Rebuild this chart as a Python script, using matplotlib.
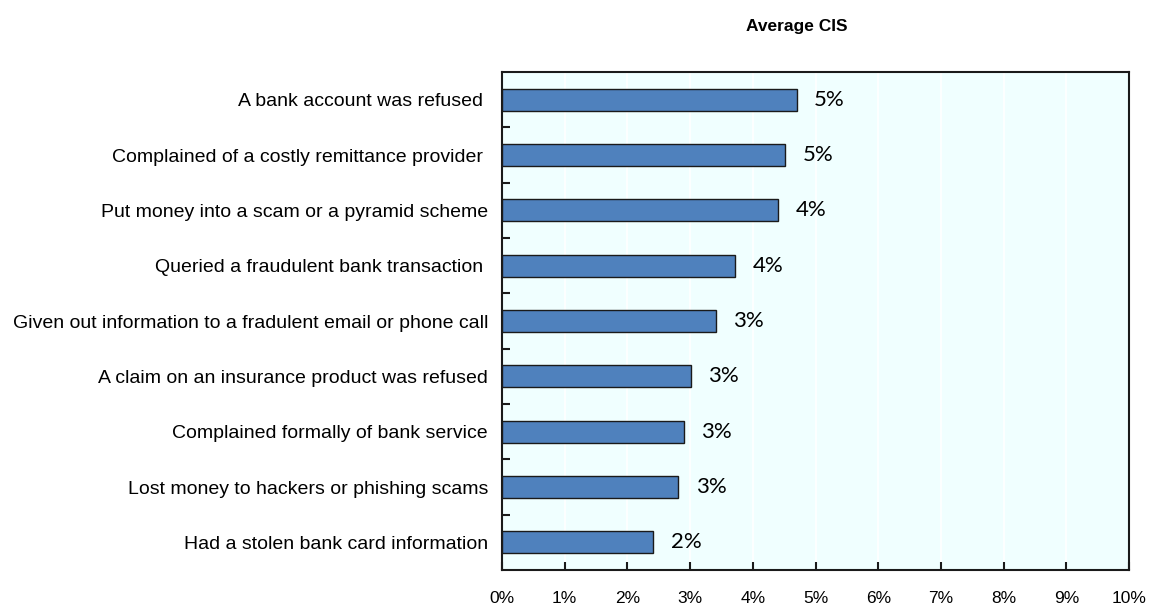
import matplotlib.pyplot as plt
from matplotlib.ticker import FixedLocator, PercentFormatter

# Share of respondents reporting each problem (%), top to bottom
categories = [
    "A bank account was refused ",
    "Complained of a costly remittance provider ",
    "Put money into a scam or a pyramid scheme",
    "Queried a fraudulent bank transaction ",
    "Given out information to a fradulent email or phone call",
    "A claim on an insurance product was refused",
    "Complained formally of bank service",
    "Lost money to hackers or phishing scams",
    "Had a stolen bank card information",
]
values = [4.70, 4.51, 4.40, 3.72, 3.41, 3.01, 2.90, 2.81, 2.41]


def main():
    plt.rcParams['font.family'] = ['Liberation Sans', 'DejaVu Sans']

    fig = plt.figure(figsize=(11.49, 6.05), dpi=100)
    ax = fig.add_axes([502 / 1149, 1 - 570 / 605, 627 / 1149, 498 / 605])
    ax.set_facecolor('#F0FFFF')

    pos = list(range(len(categories)))
    ax.barh(pos, values, height=0.4, color='#4F81BD', edgecolor='#1a1a1a',
            linewidth=1.0, zorder=3)

    for y, v in zip(pos, values):
        ax.text(v + 0.28, y, f"{v:.0f}%", va='center', ha='left',
                fontsize=16, family=['Lato', 'DejaVu Sans'], zorder=4)

    ax.set_xlim(0, 10)
    ax.set_ylim(len(categories) - 0.5, -0.5)
    ax.set_xticks(range(0, 11))
    ax.xaxis.set_major_formatter(PercentFormatter(decimals=0))
    ax.grid(axis='x', color='white', linewidth=1.2, zorder=0)

    ax.set_yticks(pos)
    ax.set_yticklabels(categories, fontsize=14)
    ax.yaxis.set_minor_locator(FixedLocator([p + 0.5 for p in pos[:-1]]))
    ax.tick_params(axis='y', which='major', length=0, pad=10)
    ax.tick_params(axis='y', which='minor', direction='in', length=6,
                   width=1.5, color='#1a1a1a')
    ax.tick_params(axis='x', direction='in', length=6, width=1.5,
                   color='#1a1a1a', labelsize=12.5, pad=15)

    for side in ax.spines.values():
        side.set_linewidth(1.5)
        side.set_color('#1a1a1a')

    fig.text(797 / 1149, 1 - 27 / 605, "Average CIS", ha='center', va='center',
             fontsize=12.5, fontweight='bold')

    fig.savefig('out.png', dpi=100)


if __name__ == "__main__":
    main()
